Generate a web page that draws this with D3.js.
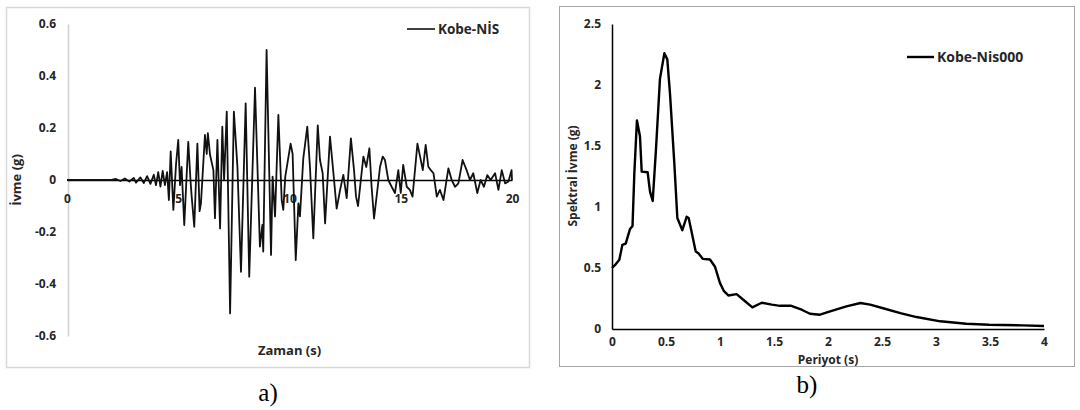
<!DOCTYPE html>
<html lang="en">

<head>
  <meta charset="UTF-8">
  <title>Kobe-NIS</title>
  <style>
    body { margin: 0; background: #fff; }
    text { font-family: "Open Sans", sans-serif; fill: #262626; }
    .axis text { font-weight: bold; font-size: 12px; }
    .title { font-weight: bold; }
    .caption { font-family: "Liberation Serif", serif; font-size: 25px; fill: #000; }
  </style>
  <script src="https://d3js.org/d3.v7.min.js"></script>
</head>

<body>
  <svg id="charts" width="1080" height="410"></svg>
  <script>
    // a) ivme kaydi
    const timeS = [0, 2.0, 2.2, 2.4, 2.6, 2.8, 3.0, 3.1, 3.3, 3.45, 3.6, 3.75, 3.9, 4.0, 4.1, 4.2, 4.3, 4.4, 4.5,
      4.58, 4.66, 4.78, 4.9, 5.0, 5.08, 5.15, 5.27, 5.45, 5.55, 5.6, 5.72, 5.86, 5.96, 6.02, 6.2, 6.28, 6.33,
      6.43, 6.58, 6.65, 6.76, 6.88, 6.98, 7.06, 7.18, 7.33, 7.5, 7.66, 7.82, 8.03, 8.19, 8.45, 8.67, 8.78,
      8.82, 8.97, 9.17, 9.24, 9.35, 9.5, 9.65, 9.72, 9.81, 10.05, 10.14, 10.28, 10.4, 10.47, 10.62, 10.8,
      10.92, 11.07, 11.27, 11.37, 11.49, 11.6, 11.82, 11.97, 12.12, 12.27, 12.42, 12.57, 12.76, 12.9, 12.99,
      13.08, 13.32, 13.45, 13.59, 13.69, 13.8, 14.07, 14.19, 14.29, 14.44, 14.59, 14.74, 14.89, 15.0, 15.11,
      15.27, 15.41, 15.53, 15.75, 15.87, 15.99, 16.12, 16.24, 16.35, 16.47, 16.62, 16.76, 16.92, 17.14, 17.29,
      17.44, 17.59, 17.78, 17.96, 18.11, 18.26, 18.44, 18.59, 18.74, 18.89, 19.04, 19.24, 19.39, 19.54, 19.69,
      19.84, 19.98, 20.0];
    const accelG = [0, 0, 0.004, -0.004, 0.006, -0.006, 0.008, -0.01, 0.01, -0.012, 0.015, -0.015, 0.02, -0.02, 0.03, -0.025, 0.035, -0.02, 0.03,
      -0.077, 0.11, -0.115, 0.06, 0.154, -0.02, 0.05, -0.173, 0.147, 0.0, -0.06, -0.18, 0.14, -0.12, -0.09, 0.173, 0.1, 0.18,
      0.096, 0.038, -0.147, 0.154, -0.186, 0.205, 0.0, 0.263, -0.513, 0.263, 0.05, -0.353, 0.295, -0.372, 0.355, -0.256, -0.173,
      -0.275, 0.5, -0.288, 0.013, -0.14, 0.25, -0.077, -0.115, 0.013, 0.14, 0.1, -0.308, -0.09, -0.14, 0.083, 0.205,
      0.05, -0.224, 0.21, 0.077, 0.026, -0.167, 0.167, 0.03, -0.11, -0.04, 0.02, -0.07, 0.16, 0.038, -0.064,
      -0.1, 0.09, 0.05, 0.122, -0.026, -0.148, 0.051, 0.09, 0.077, 0.0, -0.026, -0.05, 0.038, -0.05, 0.058,
      -0.026, -0.038, -0.064, 0.14, 0.09, 0.038, 0.135, 0.051, 0.038, 0.026, -0.064, -0.038, -0.077, 0.045, 0.0,
      -0.026, -0.013, 0.077, 0.038, 0.0, 0.026, -0.05, 0.0, -0.026, 0.019, 0.0, 0.026, -0.038, 0.038, -0.013,
      -0.006, 0.038, 0.0];
    const accTicksY = [-0.6, -0.4, -0.2, 0, 0.2, 0.4, 0.6];
    const accTicksX = [0, 5, 10, 15, 20];

    // b) spektrum
    const periodS = [0, 0.034, 0.068, 0.096, 0.127, 0.167, 0.19, 0.207, 0.231, 0.259, 0.275, 0.33, 0.352, 0.377,
      0.407, 0.444, 0.485, 0.512, 0.537, 0.577, 0.605, 0.651, 0.691, 0.71, 0.775, 0.8, 0.84, 0.907, 0.954, 1.0,
      1.037, 1.077, 1.154, 1.216, 1.3, 1.386, 1.48, 1.556, 1.66, 1.756, 1.833, 1.926, 2.02, 2.17, 2.3, 2.39,
      2.51, 2.67, 2.82, 3.04, 3.28, 3.49, 3.8, 4.0];
    const spectralG = [0.5, 0.53, 0.567, 0.69, 0.7, 0.82, 0.845, 1.28, 1.71, 1.58, 1.29, 1.285, 1.126, 1.05,
      1.47, 2.05, 2.26, 2.21, 1.93, 1.36, 0.91, 0.81, 0.92, 0.91, 0.635, 0.62, 0.575, 0.57, 0.51, 0.376,
      0.31, 0.275, 0.286, 0.24, 0.177, 0.215, 0.2, 0.19, 0.19, 0.158, 0.125, 0.117, 0.145, 0.185, 0.213, 0.2,
      0.17, 0.13, 0.098, 0.063, 0.043, 0.035, 0.03, 0.025];
    const spTicksY = [0, 0.5, 1, 1.5, 2, 2.5];
    const spTicksX = [0, 0.5, 1, 1.5, 2, 2.5, 3, 3.5, 4];

    // excel style labels: plain hyphen, no trailing zeros
    const plain = d => String(d);

    const svg = d3.select("svg#charts");

    // ---------- panel a ----------
    svg.append("rect")
      .attr("x", 6.5).attr("y", 7.5).attr("width", 523).attr("height", 360)
      .attr("fill", "none").attr("stroke", "#d9d9d9").attr("stroke-width", 1.5);

    const xA = d3.scaleLinear().domain([0, 20]).range([67, 512]);
    const yA = d3.scaleLinear().domain([-0.6, 0.6]).range([336, 24]);

    let leftA = svg.append("g")
      .attr("class", "axis")
      .attr("transform", `translate(${xA(0) + 1},0)`)
      .call(d3.axisLeft(yA).tickValues(accTicksY).tickSize(0).tickPadding(12).tickFormat(plain));
    leftA.select(".domain").attr("stroke", "#d0d0d0").attr("stroke-width", 1.5);

    let bottomA = svg.append("g")
      .attr("class", "axis")
      .attr("transform", `translate(0,${yA(0)})`)
      .call(d3.axisBottom(xA).tickValues(accTicksX).tickSize(0).tickPadding(14).tickFormat(plain));
    bottomA.select(".domain").attr("stroke", "#000").attr("stroke-width", 1.5);

    const lineA = d3.line()
      .x((d, i) => xA(timeS[i]))
      .y(d => yA(d));
    svg.append("path")
      .attr("d", lineA(accelG))
      .attr("fill", "none")
      .attr("stroke", "#111")
      .attr("stroke-width", 1.8)
      .attr("stroke-linejoin", "round");

    svg.append("text")
      .attr("class", "title")
      .attr("x", (xA(0) + xA(20)) / 2)
      .attr("y", 355)
      .attr("text-anchor", "middle")
      .attr("font-size", 13)
      .text("Zaman (s)");

    svg.append("text")
      .attr("class", "title")
      .attr("transform", `translate(21,${yA(0)}) rotate(-90)`)
      .attr("text-anchor", "middle")
      .attr("font-size", 13)
      .text("İvme (g)");

    svg.append("line")
      .attr("x1", 407).attr("x2", 435).attr("y1", 29).attr("y2", 29)
      .attr("stroke", "#000").attr("stroke-width", 1.5);
    svg.append("text")
      .attr("class", "title")
      .attr("x", 438).attr("y", 34)
      .attr("font-size", 13.5)
      .text("Kobe-NİS");

    svg.append("text")
      .attr("class", "caption")
      .attr("x", 268).attr("y", 401)
      .attr("text-anchor", "middle")
      .text("a)");

    // ---------- panel b ----------
    svg.append("rect")
      .attr("x", 559.5).attr("y", 6.5).attr("width", 515).attr("height", 360)
      .attr("fill", "none").attr("stroke", "#a6a6a6").attr("stroke-width", 1);

    const xB = d3.scaleLinear().domain([0, 4]).range([612, 1044]);
    const yB = d3.scaleLinear().domain([0, 2.5]).range([329, 24]);

    let leftB = svg.append("g")
      .attr("class", "axis")
      .attr("transform", `translate(${xB(0)},0)`)
      .call(d3.axisLeft(yB).tickValues(spTicksY).tickSize(0).tickPadding(11).tickFormat(plain));
    leftB.select(".domain").attr("stroke", "#000").attr("stroke-width", 1.5);
    leftB.selectAll("text").attr("font-size", 11);

    let bottomB = svg.append("g")
      .attr("class", "axis")
      .attr("transform", `translate(0,${yB(0)})`)
      .call(d3.axisBottom(xB).tickValues(spTicksX).tickSize(0).tickPadding(8).tickFormat(plain));
    bottomB.select(".domain").attr("stroke", "#000").attr("stroke-width", 1.5);
    bottomB.selectAll("text").attr("font-size", 11);

    const lineB = d3.line()
      .x((d, i) => xB(periodS[i]))
      .y(d => yB(d));
    svg.append("path")
      .attr("d", lineB(spectralG))
      .attr("fill", "none")
      .attr("stroke", "#000")
      .attr("stroke-width", 2.4)
      .attr("stroke-linejoin", "round");

    svg.append("text")
      .attr("class", "title")
      .attr("x", 828)
      .attr("y", 364)
      .attr("text-anchor", "middle")
      .attr("font-size", 12)
      .text("Periyot (s)");

    svg.append("text")
      .attr("class", "title")
      .attr("transform", `translate(577,176) rotate(-90)`)
      .attr("text-anchor", "middle")
      .attr("font-size", 12)
      .text("Spektral İvme (g)");

    svg.append("line")
      .attr("x1", 907).attr("x2", 934).attr("y1", 57).attr("y2", 57)
      .attr("stroke", "#000").attr("stroke-width", 2.4);
    svg.append("text")
      .attr("class", "title")
      .attr("x", 937).attr("y", 62)
      .attr("font-size", 14)
      .text("Kobe-Nis000");

    svg.append("text")
      .attr("class", "caption")
      .attr("x", 807).attr("y", 393)
      .attr("text-anchor", "middle")
      .text("b)");
  </script>
</body>

</html>
